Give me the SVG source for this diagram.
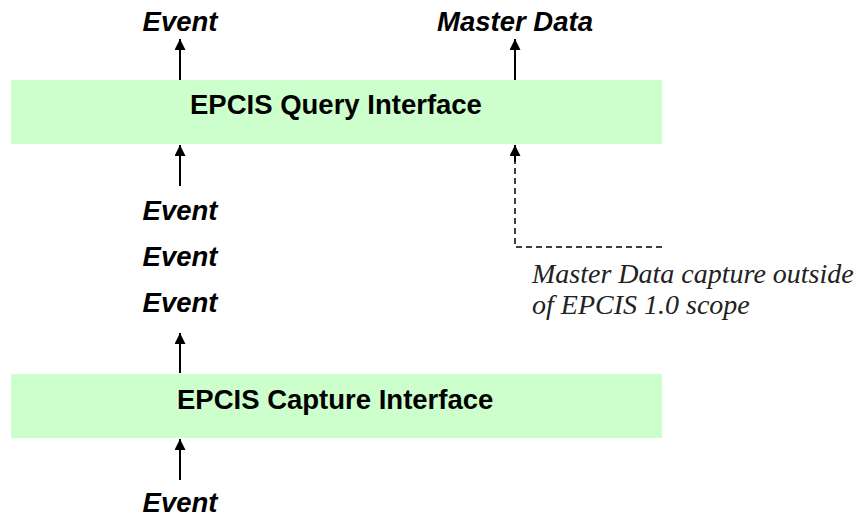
<svg xmlns="http://www.w3.org/2000/svg" width="856" height="519" viewBox="0 0 856 519">
<defs>
<style>
.box{fill:#ccffcc;stroke:none}
.lbl{font-family:"Liberation Sans",Arial,sans-serif;font-weight:bold;font-size:27.5px;fill:#000}
.ev{font-family:"Liberation Sans",Arial,sans-serif;font-weight:bold;font-style:italic;font-size:27.5px;fill:#000;text-anchor:middle}
.note{font-family:"Liberation Serif","Times New Roman",serif;font-style:italic;font-size:28px;fill:#222}
.ln{stroke:#000;stroke-width:2;fill:none}
.dash{stroke:#000;stroke-width:1.5;fill:none;stroke-dasharray:6,4}
</style>
<marker id="ah2" viewBox="0 0 10 10" refX="10" refY="5" markerWidth="13" markerHeight="11" markerUnits="userSpaceOnUse" orient="auto">
<path d="M0,0 L10,5 L0,10 z" fill="#000"/>
</marker>
</defs>
<g id="query">
<rect class="box" x="11" y="80" width="651" height="64"/>
<text class="lbl" x="190" y="114">EPCIS Query Interface</text>
</g>
<g id="capture">
<rect class="box" x="11" y="374" width="651" height="64"/>
<text class="lbl" x="177" y="409">EPCIS Capture Interface</text>
</g>
<g id="event-out"><text class="ev" x="180" y="31">Event</text></g>
<g id="masterdata-out"><text class="ev" x="515" y="31">Master Data</text></g>
<g id="events-mid">
<text class="ev" x="180" y="220">Event</text>
<text class="ev" x="180" y="266">Event</text>
<text class="ev" x="180" y="312">Event</text>
</g>
<g id="event-in"><text class="ev" x="180" y="512">Event</text></g>
<g id="note">
<text class="note" x="532" y="283">Master Data capture outside</text>
<text class="note" x="532" y="314">of EPCIS 1.0 scope</text>
</g>
<g id="connectors">
<line class="ln" x1="180" y1="80" x2="180" y2="39" marker-end="url(#ah2)"/>
<line class="ln" x1="515" y1="80" x2="515" y2="39" marker-end="url(#ah2)"/>
<line class="ln" x1="180" y1="186" x2="180" y2="145" marker-end="url(#ah2)"/>
<line class="ln" x1="180" y1="373" x2="180" y2="333" marker-end="url(#ah2)"/>
<line class="ln" x1="180" y1="480" x2="180" y2="439" marker-end="url(#ah2)"/>
<polyline class="dash" points="662,247 515,247 515,160"/>
<line class="ln" x1="515" y1="162" x2="515" y2="145" marker-end="url(#ah2)"/>
</g>
</svg>
